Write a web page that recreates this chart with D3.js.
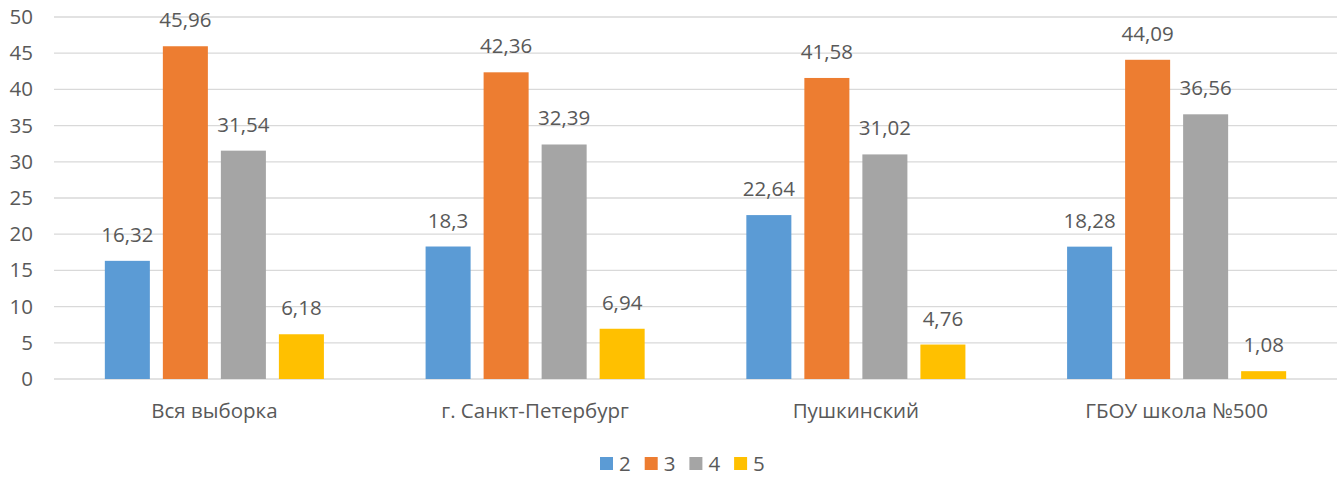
<!DOCTYPE html>
<html><head><meta charset="utf-8">
<script src="https://cdn.jsdelivr.net/npm/d3@7"></script>
<style>body{margin:0;background:#fff}svg{display:block}text{font-family:"Open Sans",sans-serif;fill:#595959}</style>
</head><body><svg id="c" width="1343" height="477"></svg>
<script>
const categories = ["Вся выборка", "г. Санкт-Петербург", "Пушкинский", "ГБОУ школа №500"];
const seriesNames = ["2", "3", "4", "5"];
const s2 = [16.32, 18.3, 22.64, 18.28];
const s3 = [45.96, 42.36, 41.58, 44.09];
const s4 = [31.54, 32.39, 31.02, 36.56];
const s5 = [6.18, 6.94, 4.76, 1.08];
const yTicks = [0, 5, 10, 15, 20, 25, 30, 35, 40, 45, 50];
const colors = ["#5B9BD5", "#ED7D31", "#A5A5A5", "#FFC000"];
const series = [s2, s3, s4, s5];

const FS = 20.5;
const svg = d3.select("#c");
const L = 54, R = 1337, T = 17, B = 379;
const y = d3.scaleLinear().domain([0, 50]).range([B, T]);
const x0 = d3.scaleBand().domain(categories).range([L, R]).paddingInner(0.317).paddingOuter(0.1585);
const x1 = d3.scaleBand().domain(seriesNames).range([0, x0.bandwidth()]).paddingInner(0.224).paddingOuter(0);

const fmt = v => String(v).replace(".", ",");

// gridlines
svg.append("g").selectAll("line").data(yTicks).join("line")
  .attr("x1", L).attr("x2", R).attr("y1", d => y(d)).attr("y2", d => y(d))
  .attr("stroke", "#D9D9D9").attr("stroke-width", 1.3);

// y axis labels
const yAxis = d3.axisLeft(y).tickValues(yTicks).tickSize(0).tickPadding(0);
const ga = svg.append("g").attr("transform", `translate(33,0)`).call(yAxis);
ga.select(".domain").remove();
ga.selectAll("text").attr("font-size", FS).attr("fill", "#595959").style("font-family", '"Open Sans",sans-serif');

// bars
categories.forEach((c, ci) => {
  const g = svg.append("g").attr("transform", `translate(${x0(c)},0)`);
  seriesNames.forEach((s, si) => {
    const v = series[si][ci];
    g.append("rect").attr("x", x1(s)).attr("width", x1.bandwidth())
      .attr("y", y(v)).attr("height", y(0) - y(v)).attr("fill", colors[si]);
    g.append("text").attr("x", x1(s) + x1.bandwidth() / 2).attr("y", y(v) - 19)
      .attr("text-anchor", "middle").attr("font-size", FS).text(fmt(v));
  });
});

// x axis labels
const xAxis = d3.axisBottom(x0).tickSize(0).tickPadding(0);
const gx = svg.append("g").attr("transform", `translate(0,${B})`).call(xAxis);
gx.select(".domain").remove();
gx.selectAll("text").attr("dy", null).attr("y", 39).attr("font-size", FS).attr("fill", "#595959").style("font-family", '"Open Sans",sans-serif');

// legend
const lg = svg.append("g");
seriesNames.forEach((s, i) => {
  const lx = 600 + i * 44.7;
  lg.append("rect").attr("x", lx).attr("y", 457).attr("width", 13).attr("height", 13).attr("fill", colors[i]);
  lg.append("text").attr("x", lx + 19).attr("y", 471).attr("font-size", FS).text(s);
});
</script></body></html>
